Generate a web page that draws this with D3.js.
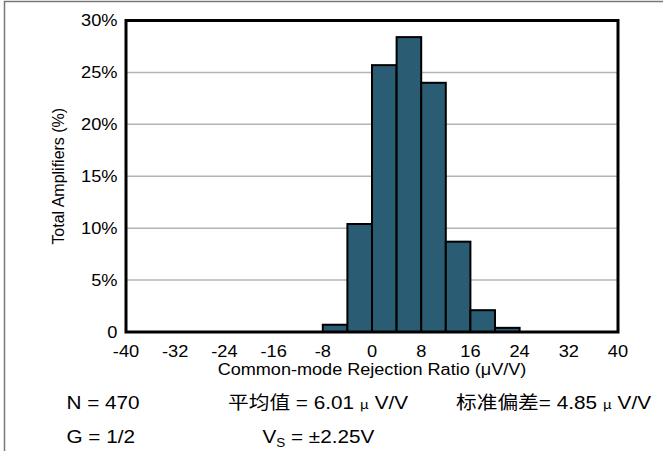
<!DOCTYPE html>
<html><head><meta charset="utf-8">
<script src="https://cdn.jsdelivr.net/npm/d3@7"></script>
<style>body{margin:0;background:#fff}svg{display:block}text{font-family:"Liberation Sans",Arial,sans-serif;fill:#000}</style>
</head><body>
<script>
const binStarts = [-8, -4, 0, 4, 8, 12, 16, 20];
const binWidth = 4;
const percents = [0.7, 10.4, 25.7, 28.4, 24.0, 8.7, 2.1, 0.4];
const xTicks = [-40, -32, -24, -16, -8, 0, 8, 16, 24, 32, 40];
const yTicks = [0, 5, 10, 15, 20, 25, 30];
const yTickLabels = ["0", "5%", "10%", "15%", "20%", "25%", "30%"];

const W = 663, H = 451;
const m = {l: 126, r: 45, t: 20.5, b: 119};
const svg = d3.select("body").append("svg").attr("width", W).attr("height", H);

// outer border (top and left)
svg.append("path").attr("d", `M4.5,${H} L4.5,1.5 L${W},1.5`).attr("fill","none").attr("stroke","#777").attr("stroke-width",1.5);

const x = d3.scaleLinear().domain([-40, 40]).range([m.l, W - m.r]);
const y = d3.scaleLinear().domain([0, 30]).range([H - m.b, m.t]);

function txt(g, xx, yy, s, size, anchor, sx) {
  return g.append("text").attr("transform", `translate(${xx},${yy}) scale(${sx},1)`)
    .attr("font-size", size).attr("text-anchor", anchor || "start").text(s);
}

// gridlines
svg.append("g").selectAll("line").data(yTicks.filter(d => d > 0 && d < 30)).join("line")
  .attr("x1", x(-40)).attr("x2", x(40)).attr("y1", d => y(d)).attr("y2", d => y(d))
  .attr("stroke", "#b4b4b4").attr("stroke-width", 1.5);

// bars
svg.append("g").selectAll("rect").data(binStarts).join("rect")
  .attr("x", d => x(d)).attr("width", d => x(d + binWidth) - x(d))
  .attr("y", (d, i) => y(percents[i])).attr("height", (d, i) => y(0) - y(percents[i]))
  .attr("fill", "#2a5c74").attr("stroke", "#000").attr("stroke-width", 2);

// frame
svg.append("rect").attr("x", x(-40)).attr("y", y(30)).attr("width", x(40) - x(-40)).attr("height", y(0) - y(30))
  .attr("fill", "none").attr("stroke", "#000").attr("stroke-width", 3);

// y tick labels
const gy = svg.append("g");
yTicks.forEach((d, i) => txt(gy, x(-40) - 8.5, y(d) + 5.5, yTickLabels[i], 16, "end", 1.14));
// x tick labels
const gx = svg.append("g");
xTicks.forEach(d => txt(gx, x(d), y(0) + 25, String(d), 16, "middle", 1.14));

// axis titles
txt(svg, (x(-40) + x(40)) / 2, y(0) + 43, "Common-mode Rejection Ratio (\u03BCV/V)", 16, "middle", 1.13);
svg.append("text").attr("transform", `translate(64,${(y(0)+y(30))/2}) rotate(-90) scale(1,1.07)`)
  .attr("font-size", 16).attr("text-anchor", "middle").text("Total Amplifiers (%)");

// annotations
const fs = 18.5, asx = 1.12;
const ga = svg.append("g");
txt(ga, 66.5, 408.5, "N = 470", fs, "start", asx);
txt(ga, 66.5, 443, "G = 1/2", fs, "start", asx);
const t1 = ga.append("text").attr("transform", `translate(228,408.5) scale(${asx},1)`).attr("font-size", fs);
t1.append("tspan").attr("font-family", "Noto Sans CJK SC").text("平均值");
t1.append("tspan").text(" = 6.01 ");
t1.append("tspan").attr("font-family", "Noto Sans CJK SC").attr("font-size", 13).text("\u03BC");
t1.append("tspan").text(" V/V");
const t2 = ga.append("text").attr("transform", `translate(456,408.5) scale(${asx},1)`).attr("font-size", fs);
t2.append("tspan").attr("font-family", "Noto Sans CJK SC").text("标准偏差");
t2.append("tspan").text("= 4.85 ");
t2.append("tspan").attr("font-family", "Noto Sans CJK SC").attr("font-size", 13).text("\u03BC");
t2.append("tspan").text(" V/V");
const t3 = ga.append("text").attr("transform", `translate(262.5,443) scale(${asx},1)`).attr("font-size", fs);
t3.append("tspan").text("V");
t3.append("tspan").attr("font-size", 12).attr("dy", 4).text("S");
t3.append("tspan").attr("dy", -4).text(" = \u00B12.25V");
</script>
</body></html>
